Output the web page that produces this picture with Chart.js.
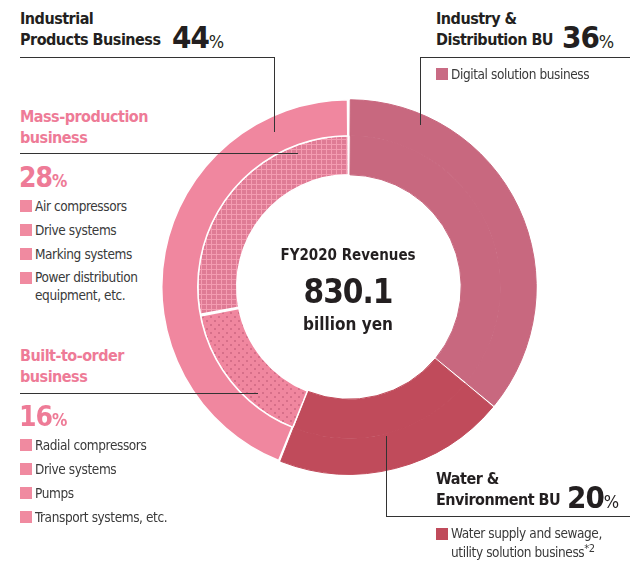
<!DOCTYPE html>
<html>
<head>
<meta charset="utf-8">
<script src="https://cdn.jsdelivr.net/npm/chart.js@4.4.1/dist/chart.umd.min.js"></script>
<style>
  html, body { margin:0; padding:0; background:#fff; }
  body { width:630px; height:563px; position:relative; overflow:hidden;
         font-family:"DejaVu Sans",sans-serif; font-stretch:condensed; color:#231f20; }
  .abs { position:absolute; white-space:nowrap; }
  .head { font-weight:bold; font-size:16px; line-height:21px; letter-spacing:-0.5px; }
  .pink { color:#ee7b97; }
  .big { font-weight:bold; font-size:31px; line-height:33px; letter-spacing:-1px; }
  .big small { font-size:18px; font-weight:normal; letter-spacing:0; }
  .pct { font-weight:bold; font-size:28px; line-height:29px; letter-spacing:-1px; }
  .pct small { font-size:17px; letter-spacing:0; }
  .item { font-size:13.5px; line-height:24px; color:#3a3a3a; padding-left:15px; position:absolute; white-space:nowrap; letter-spacing:-0.4px; }
  .item i { position:absolute; left:0; top:6px; width:12px; height:12px; }
  .hl { position:absolute; height:0; border-top:1px solid #333; }
  .vl { position:absolute; width:0; border-left:1px solid #333; }
  #wrap { position:absolute; left:161px; top:99px; width:376px; height:376px; }
  .center { position:absolute; left:248px; width:200px; text-align:center; font-weight:bold; }
</style>
</head>
<body>
<div id="wrap"><canvas id="donut"></canvas></div>

<!-- center label -->
<div class="center" style="top:245px;font-size:15px;line-height:20px;">FY2020 Revenues</div>
<div class="center" style="top:272px;font-size:33px;line-height:40px;letter-spacing:-1px;">830.1</div>
<div class="center" style="top:313px;font-size:17px;line-height:22px;">billion yen</div>

<!-- Industrial Products -->
<div class="abs head" style="left:20px;top:8px;">Industrial<br>Products Business</div>
<div class="abs big" style="left:172px;top:21px;">44<small>%</small></div>
<div class="hl" style="left:20px;top:57px;width:255px;"></div>
<div class="vl" style="left:274px;top:57px;height:75px;"></div>

<!-- Mass-production -->
<div class="abs head pink" style="left:20px;top:106px;">Mass-production<br>business</div>
<div class="hl" style="left:20px;top:153px;width:278px;"></div>
<div class="abs pct pink" style="left:19px;top:163px;">28<small>%</small></div>
<div class="item" style="left:20px;top:194px;"><i style="background:#f08aa0"></i>Air compressors</div>
<div class="item" style="left:20px;top:218px;"><i style="background:#f08aa0"></i>Drive systems</div>
<div class="item" style="left:20px;top:242px;"><i style="background:#f08aa0"></i>Marking systems</div>
<div class="item" style="left:20px;top:268px;line-height:18px;"><i style="background:#f08aa0;top:4px"></i>Power distribution<br>equipment, etc.</div>

<!-- Built-to-order -->
<div class="abs head pink" style="left:20px;top:345px;">Built-to-order<br>business</div>
<div class="hl" style="left:20px;top:393px;width:238px;"></div>
<div class="abs pct pink" style="left:19px;top:402px;">16<small>%</small></div>
<div class="item" style="left:20px;top:433px;"><i style="background:#f08aa0"></i>Radial compressors</div>
<div class="item" style="left:20px;top:457px;"><i style="background:#f08aa0"></i>Drive systems</div>
<div class="item" style="left:20px;top:481px;"><i style="background:#f08aa0"></i>Pumps</div>
<div class="item" style="left:20px;top:505px;"><i style="background:#f08aa0"></i>Transport systems, etc.</div>

<!-- Industry & Distribution -->
<div class="abs head" style="left:436px;top:8px;">Industry &amp;<br>Distribution BU</div>
<div class="abs big" style="left:562px;top:21px;">36<small>%</small></div>
<div class="hl" style="left:420px;top:57px;width:210px;"></div>
<div class="vl" style="left:420px;top:57px;height:68px;"></div>
<div class="item" style="left:436px;top:62px;"><i style="background:#c96b84"></i>Digital solution business</div>

<!-- Water & Environment -->
<div class="abs head" style="left:436px;top:468px;">Water &amp;<br>Environment BU</div>
<div class="abs big" style="left:567px;top:481px;">20<small>%</small></div>
<div class="hl" style="left:386px;top:516px;width:244px;"></div>
<div class="vl" style="left:386px;top:436px;height:80px;"></div>
<div class="item" style="left:436px;top:524px;line-height:19px;"><i style="background:#c04b5b;top:4px"></i>Water supply and sewage,<br>utility solution business<sup style="font-size:11px;line-height:0">*2</sup></div>

<script>
// ---- data ----
const outerLabels = ['Industry & Distribution BU', 'Water & Environment BU', 'Industrial Products Business'];
const outerShares = [36, 20, 44];
const innerLabels = ['Industry & Distribution BU', 'Water & Environment BU', 'Built-to-order business', 'Mass-production business'];
const innerShares = [36, 20, 16, 28];

const cIndustry = '#c8687f';
const cWater = '#c04b5b';
const cProducts = '#f0879f';

// crosshatch tile for mass-production
function gridPattern() {
    const c = document.createElement('canvas');
    c.width = 5; c.height = 5;
    const g = c.getContext('2d');
    g.fillStyle = '#f49cb1';
    g.fillRect(0, 0, 5, 5);
    g.fillStyle = '#df7b95';
    g.fillRect(1, 1, 4, 4);
    return g.createPattern(c, 'repeat');
}
// dotted tile for built-to-order
function dotPattern() {
    const c = document.createElement('canvas');
    c.width = 8; c.height = 8;
    const g = c.getContext('2d');
    g.fillStyle = '#f0879f';
    g.fillRect(0, 0, 8, 8);
    g.fillStyle = '#d66f89';
    g.fillRect(1, 1, 2, 2);
    g.fillRect(5, 5, 2, 2);
    return g.createPattern(c, 'repeat');
}

new Chart(document.getElementById('donut'), {
    type: 'doughnut',
    data: {
        labels: innerLabels,
        datasets: [
            {
                label: 'Segments',
                data: outerShares,
                backgroundColor: [cIndustry, cWater, cProducts],
                borderColor: [cIndustry, cWater, '#ffffff'],
                borderWidth: [1, 1, 1.5],
                weight: 36
            },
            {
                label: 'Sub-segments',
                data: innerShares,
                backgroundColor: [cIndustry, cWater, dotPattern(), gridPattern()],
                borderColor: [cIndustry, cWater, '#ffffff', '#ffffff'],
                borderWidth: [1, 1, 1.5, 1.5],
                weight: 39
            }
        ]
    },
    options: {
        responsive: true,
        maintainAspectRatio: false,
        animation: false,
        cutout: '59.7%',
        spacing: 2,
        layout: { padding: 0 },
        plugins: { legend: { display: false }, tooltip: { enabled: false } }
    }
});
</script>
</body>
</html>
